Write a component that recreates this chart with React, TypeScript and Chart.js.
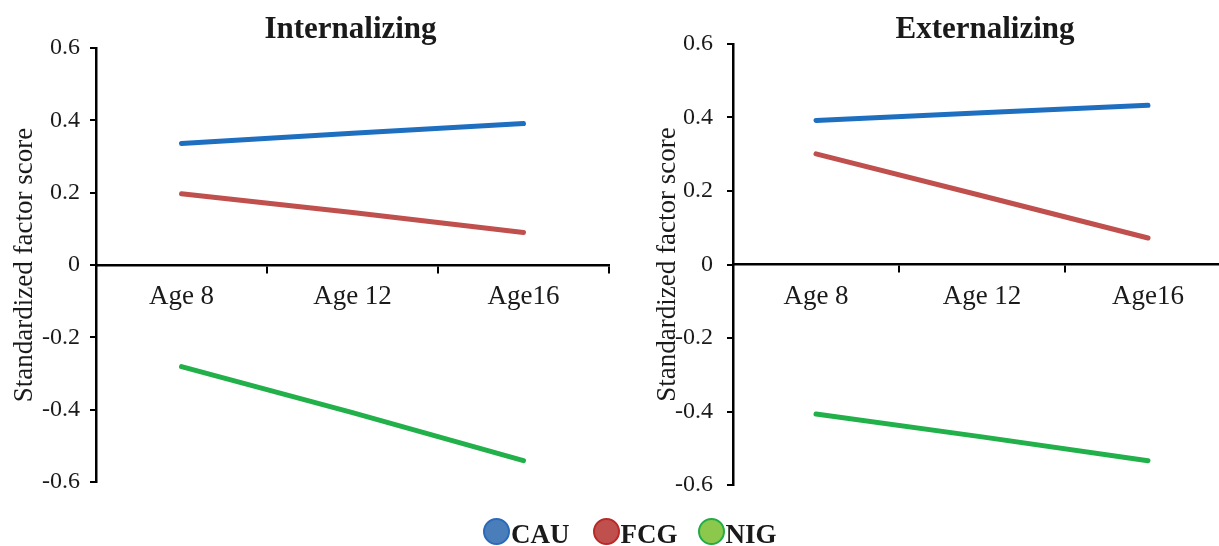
import React, { useEffect, useRef } from "react";
import { Chart, registerables } from "chart.js";

Chart.register(...registerables);

// ---------- data ----------
const categories = ["Age 8", "Age 12", "Age16"];
const yTickValues = [-0.6, -0.4, -0.2, 0, 0.2, 0.4, 0.6];
const seriesNames = ["CAU", "FCG", "NIG"];

const internalizingCAU = [0.336, 0.364, 0.391];
const internalizingFCG = [0.197, 0.145, 0.09];
const internalizingNIG = [-0.281, -0.408, -0.541];

const externalizingCAU = [0.392, 0.413, 0.433];
const externalizingFCG = [0.301, 0.187, 0.072];
const externalizingNIG = [-0.407, -0.469, -0.534];

const panelTitles = ["Internalizing", "Externalizing"];
const yAxisTitle = "Standardized factor score";

// ---------- styles ----------
const SERIF = '"Liberation Serif", "Times New Roman", Times, serif';
const lineColors = ["#1f6fc0", "#c0504d", "#22b04b"];
const legendFill = ["#4a7ebb", "#c0504d", "#8cc84b"];
const legendBorder = ["#2a6ab8", "#b82a28", "#22ac48"];
const legendGapAfter = [23, 20, 0];
const TEXT = "#1a1a1a";

const fmtTick = (v: number) => (Math.abs(v) < 1e-9 ? "0" : v.toFixed(1));

const panelTitlePlugin = {
  id: "panelTitle",
  afterDraw(chart: any, _args: any, opts: any) {
    const { ctx, chartArea } = chart;
    ctx.save();
    ctx.font = `bold ${opts.size}px ${SERIF}`;
    ctx.fillStyle = opts.color;
    ctx.textAlign = "center";
    ctx.textBaseline = "middle";
    ctx.fillText(opts.text, (chartArea.left + chartArea.right) / 2 + (opts.dx || 0), opts.y);
    ctx.restore();
  },
};

type PanelProps = {
  title: string;
  values: number[][];
  left: number;
  width: number;
  yWidth: number;
  padTop: number;
  padBottom: number;
  padRight: number;
  tickPad: number;
  titlePad: number;
  titleDx: number;
  titleY: number;
};

function Panel(p: PanelProps) {
  const ref = useRef<HTMLCanvasElement | null>(null);
  useEffect(() => {
    if (!ref.current) return;
    const chart = new Chart(ref.current, {
      type: "line",
      data: {
        labels: categories,
        datasets: seriesNames.map((name, i) => ({
          label: name,
          data: p.values[i],
          borderColor: lineColors[i],
          backgroundColor: lineColors[i],
          borderWidth: 5,
          borderCapStyle: "round",
          pointRadius: 0,
          tension: 0,
          fill: false,
        })),
      },
      options: {
        responsive: false,
        animation: false,
        layout: { padding: { left: 0, top: p.padTop, bottom: p.padBottom, right: p.padRight } },
        plugins: {
          legend: { display: false },
          tooltip: { enabled: false },
          title: { display: false },
          panelTitle: { text: p.title, size: 31, color: TEXT, dx: p.titleDx, y: p.titleY },
        } as any,
        scales: {
          x: {
            type: "category",
            offset: true,
            position: { y: 0 } as any,
            grid: {
              offset: true,
              drawOnChartArea: false,
              drawTicks: true,
              tickLength: 7,
              color: "#000",
              lineWidth: 2,
            },
            border: { display: true, color: "#000", width: 2.5 },
            ticks: {
              font: { family: SERIF, size: 27 },
              color: TEXT,
              padding: 9,
              maxRotation: 0,
              autoSkip: false,
            },
          },
          y: {
            min: -0.6,
            max: 0.6,
            afterFit(scale: any) {
              scale.width = p.yWidth;
            },
            afterBuildTicks(scale: any) {
              scale.ticks = yTickValues.map((v) => ({ value: v }));
            },
            ticks: {
              callback: (v: any) => fmtTick(Number(v)),
              font: { family: SERIF, size: 24 },
              color: TEXT,
              padding: p.tickPad,
            },
            grid: {
              drawOnChartArea: false,
              drawTicks: true,
              tickLength: 6,
              color: "#000",
              lineWidth: 2,
            },
            border: { display: true, color: "#000", width: 2.5 },
            title: {
              display: true,
              text: yAxisTitle,
              font: { family: SERIF, size: 27 },
              color: TEXT,
              padding: { top: p.titlePad, bottom: 0 },
            },
          },
        },
      },
      plugins: [panelTitlePlugin],
    } as any);
    return () => chart.destroy();
  }, []);
  return (
    <canvas
      ref={ref}
      width={p.width}
      height={546}
      style={{ position: "absolute", left: p.left, top: 0, width: p.width, height: 546 }}
    />
  );
}

function Legend() {
  return (
    <div
      style={{
        position: "absolute",
        left: 483,
        top: 517,
        height: 28,
        display: "flex",
        alignItems: "center",
      }}
    >
      {seriesNames.map((name, i) => (
        <div key={name} style={{ display: "flex", alignItems: "center", marginRight: legendGapAfter[i] }}>
          <span
            style={{
              display: "inline-block",
              width: 23,
              height: 23,
              borderRadius: "50%",
              background: legendFill[i],
              border: `2.5px solid ${legendBorder[i]}`,
            }}
          />
          <span
            style={{
              fontFamily: SERIF,
              fontWeight: "bold",
              fontSize: 27,
              lineHeight: "28px",
              color: TEXT,
              marginLeft: 1,
              position: "relative",
              top: 3,
            }}
          >
            {name}
          </span>
        </div>
      ))}
    </div>
  );
}

export default function App() {
  return (
    <div
      style={{
        position: "fixed",
        left: 0,
        top: 0,
        width: 1219,
        height: 546,
        overflow: "hidden",
        background: "#fff",
      }}
    >
      <Panel
        title={panelTitles[0]}
        values={[internalizingCAU, internalizingFCG, internalizingNIG]}
        left={0}
        width={610}
        yWidth={96}
        padTop={48}
        padBottom={64}
        padRight={1}
        tickPad={10}
        titlePad={9}
        titleDx={-2}
        titleY={30}
      />
      <Panel
        title={panelTitles[1]}
        values={[externalizingCAU, externalizingFCG, externalizingNIG]}
        left={610}
        width={625}
        yWidth={123}
        padTop={44}
        padBottom={61}
        padRight={4}
        tickPad={14}
        titlePad={42}
        titleDx={3}
        titleY={30}
      />
      <Legend />
    </div>
  );
}
